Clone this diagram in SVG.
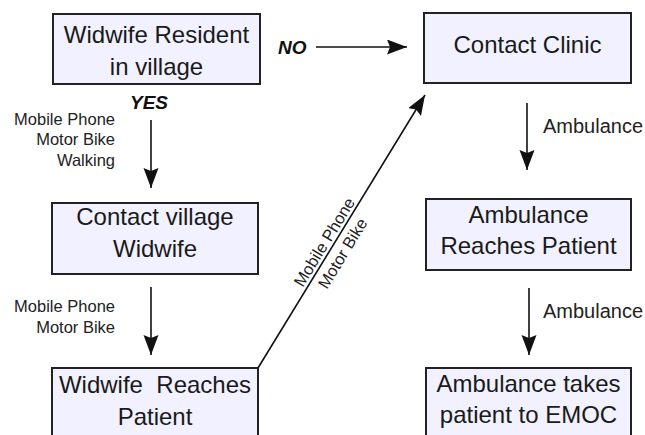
<svg xmlns="http://www.w3.org/2000/svg" width="645" height="435" viewBox="0 0 645 435">
<style>
.box{fill:#F1F1FF;stroke:#222;stroke-width:2}
.bt{font-family:"Liberation Sans",Arial,sans-serif;font-size:24px;fill:#1a1a1a;text-anchor:middle}
.lb{font-family:"Liberation Sans",Arial,sans-serif;font-size:16.5px;fill:#222}
.lr{text-anchor:end}
.yn{font-family:"Liberation Sans",Arial,sans-serif;font-size:19px;font-weight:bold;font-style:italic;fill:#111}
.amb{font-family:"Liberation Sans",Arial,sans-serif;font-size:20px;fill:#222}
.ln{stroke:#111;stroke-width:1.6;fill:none;marker-end:url(#ah)}
</style>
<defs>
<marker id="ah" markerUnits="userSpaceOnUse" markerWidth="21" markerHeight="16" refX="20" refY="7.5" orient="auto">
<path d="M0,0 L20,7.5 L0,15 L3,7.5 z" fill="#111"/>
</marker>
</defs>
<rect width="645" height="435" fill="#fff"/>
<g id="n1">
<rect class="box" x="53" y="14" width="207" height="70"/>
<text class="bt" x="156.5" y="43">Widwife Resident</text>
<text class="bt" x="156.5" y="75">in village</text>
</g>
<g id="n2">
<rect class="box" x="424" y="13" width="207" height="70"/>
<text class="bt" x="527.5" y="53">Contact Clinic</text>
</g>
<g id="n3">
<rect class="box" x="52" y="203" width="206" height="71"/>
<text class="bt" x="155" y="225">Contact village</text>
<text class="bt" x="155" y="257">Widwife</text>
</g>
<g id="n4">
<rect class="box" x="52" y="368" width="206" height="80"/>
<text class="bt" x="155" y="393" xml:space="preserve">Widwife  Reaches</text>
<text class="bt" x="155" y="425">Patient</text>
</g>
<g id="n5">
<rect class="box" x="426" y="199" width="205" height="71"/>
<text class="bt" x="528.5" y="223">Ambulance</text>
<text class="bt" x="528.5" y="254">Reaches Patient</text>
</g>
<g id="n6">
<rect class="box" x="426" y="368" width="205" height="80"/>
<text class="bt" x="528.5" y="392">Ambulance takes</text>
<text class="bt" x="528.5" y="423">patient to EMOC</text>
</g>
<g id="connectors">
<line class="ln" x1="316" y1="47" x2="407" y2="47"/>
<text class="yn" x="278" y="54">NO</text>
<line class="ln" x1="151" y1="120" x2="151" y2="188"/>
<text class="yn" x="149" y="109" text-anchor="middle">YES</text>
<text class="lb lr" x="115" y="125">Mobile Phone</text>
<text class="lb lr" x="115" y="145">Motor Bike</text>
<text class="lb lr" x="115" y="166">Walking</text>
<line class="ln" x1="151" y1="287" x2="151" y2="355"/>
<text class="lb lr" x="115" y="312">Mobile Phone</text>
<text class="lb lr" x="115" y="333">Motor Bike</text>
<line class="ln" x1="258" y1="368" x2="425" y2="95"/>
<g transform="translate(258,368) rotate(-58.5)">
<text class="lb" x="142" y="-3.5" text-anchor="middle">Mobile Phone</text>
<text class="lb" x="142" y="18" text-anchor="middle">Motor Bike</text>
</g>
<line class="ln" x1="527" y1="103" x2="527" y2="170"/>
<text class="amb" x="543" y="133">Ambulance</text>
<line class="ln" x1="529" y1="288" x2="529" y2="355"/>
<text class="amb" x="543" y="318">Ambulance</text>
</g>
</svg>
